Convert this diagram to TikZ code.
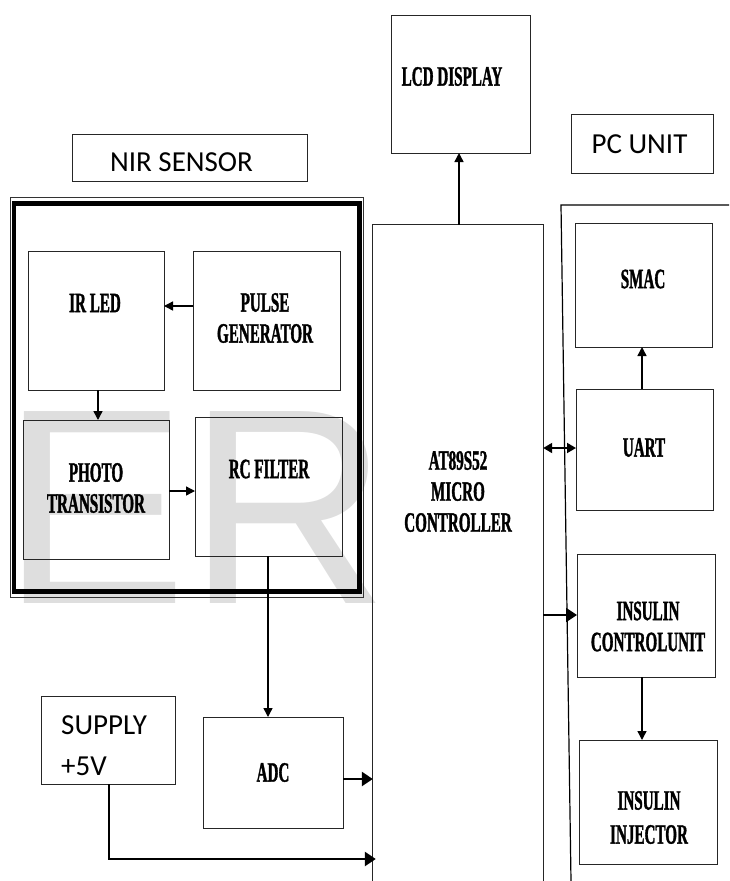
\documentclass[tikz,border=0pt]{standalone}
\usepackage{fontspec}
\usetikzlibrary{arrows.meta}
\newfontfamily\blk{Liberation Serif Bold}[FakeStretch=0.54,FakeBold=1.2]
\newfontfamily\calfont{Carlito}
\newfontfamily\wmfont{Liberation Sans}
\begin{document}
\begin{tikzpicture}[x=1pt,y=-1pt,
  box/.style={draw=black!85,line width=0.9pt,inner sep=0pt,outer sep=0pt},
  lbl/.style={font=\blk\fontsize{28}{31}\selectfont,align=center,inner sep=0pt},
  slbl/.style={font=\calfont\fontsize{29}{41}\selectfont,inner sep=0pt},
  arr/.style={line width=1.4pt,-{Triangle[length=9pt,width=9pt]}},
  darr/.style={line width=1.8pt,{Triangle[length=9pt,width=10pt]}-{Triangle[length=9pt,width=10pt]}},
  tarr/.style={line width=2.6pt,-{Triangle[length=11pt,width=14pt]}},
]
\useasboundingbox (0,0) rectangle (729,881);
% watermark
\node[anchor=base west,inner sep=0pt,text=black!13,font=\wmfont\fontsize{279}{279}\selectfont] (wm) at (1,603) {ER};

% NIR sensor frame
\node[draw=black!80,line width=0.8pt,minimum width=353pt,minimum height=400pt,inner sep=0pt] (frameA) at (187,397.5) {};
\node[draw=black,line width=4.5pt,minimum width=345.5pt,minimum height=388pt,inner sep=0pt] (frameB) at (186.75,397.5) {};

% boxes
\node[box,minimum width=235pt,minimum height=47pt] (nir) at (189.5,157.5) {};
\node[box,minimum width=136pt,minimum height=139pt] (irled) at (96,320.5) {};
\node[box,minimum width=147pt,minimum height=139pt] (pulse) at (266.5,320.5) {};
\node[box,minimum width=146pt,minimum height=139pt] (photo) at (96,489.5) {};
\node[box,minimum width=147pt,minimum height=139pt] (rc) at (268.5,486.5) {};
\node[box,minimum width=140pt,minimum height=111pt] (adc) at (273,772.5) {};
\node[box,minimum width=134pt,minimum height=88pt] (supply) at (108,740) {};
\node[box,minimum width=139pt,minimum height=138pt] (lcd) at (460.5,84) {};
\node[box,minimum width=142pt,minimum height=59pt] (pcunit) at (642,143.5) {};
\node[box,minimum width=137pt,minimum height=124pt] (smac) at (643.5,285) {};
\node[box,minimum width=137pt,minimum height=121pt] (uart) at (644.5,449.5) {};
\node[box,minimum width=138pt,minimum height=123pt] (inscu) at (646,615.5) {};
\node[box,minimum width=138pt,minimum height=124pt] (insinj) at (648,802) {};

% microcontroller (open at the bottom)
\node[inner sep=0pt,minimum width=170pt,minimum height=658pt] (micro) at (458,554) {};
\draw[black!85,line width=0.9pt] (micro.south west) |- (micro.north east) -- (micro.south east);

% PC unit frame
\coordinate (pcA) at (571,881);
\coordinate (pcB) at (561,205);
\coordinate (pcC) at (729,205);
\draw[black,line width=1.2pt] (pcA) -- (pcB) -- (pcC);

% labels
\node[slbl] (tnir) at (181.5,162.5) {NIR SENSOR};
\node[slbl] (tpc) at (639.5,144.5) {PC UNIT};
\node[slbl,align=left,anchor=west] (tsup) at (61,745.5) {SUPPLY\\+5V};
\node[lbl] (tirled) at (95,303) {IR LED};
\node[lbl] (tpulse) at (265,318) {PULSE\\GENERATOR};
\node[lbl] (tphoto) at (96,488) {PHOTO\\TRANSISTOR};
\node[lbl] (trc) at (269,469) {RC FILTER};
\node[lbl] (tadc) at (273,772.5) {ADC};
\node[lbl] (tlcd) at (452,76.5) {LCD DISPLAY};
\node[lbl] (tmicro) at (458,491.5) {AT89S52\\MICRO\\CONTROLLER};
\node[lbl] (tsmac) at (643,279) {SMAC};
\node[lbl] (tuart) at (644,447.5) {UART};
\node[lbl] (tinscu) at (648,626.5) {INSULIN\\CONTROLUNIT};
\node[lbl,font=\blk\fontsize{28}{34}\selectfont] (tinsinj) at (649,817.5) {INSULIN\\INJECTOR};

% connectors
\draw[arr] (pulse.west |- 0,306) -- (irled.east |- 0,306);
\draw[arr] (irled.south -| 98,0) -- (photo.north -| 98,0);
\draw[arr] (photo.east |- 0,491) -- (rc.west |- 0,491);
\draw[arr] (rc.south -| 268,0) -- (adc.north -| 268,0);
\draw[tarr] (adc.east |- 0,779) -- (micro.west |- 0,779);
\coordinate (supbend) at (109,859);
\draw[tarr] (supply.south -| 109,0) -- (supbend) -- ([xshift=3pt]micro.west |- supbend);
\draw[arr] (micro.north -| 459,0) -- (lcd.south -| 459,0);
\draw[darr] (micro.east |- 0,448) -- (uart.west |- 0,448);
\draw[arr] (uart.north -| 642,0) -- (smac.south -| 642,0);
\draw[tarr,line width=2pt] (micro.east |- 0,615) -- (inscu.west |- 0,615);
\draw[arr] (inscu.south -| 642,0) -- (insinj.north -| 642,0);
\end{tikzpicture}
\end{document}
